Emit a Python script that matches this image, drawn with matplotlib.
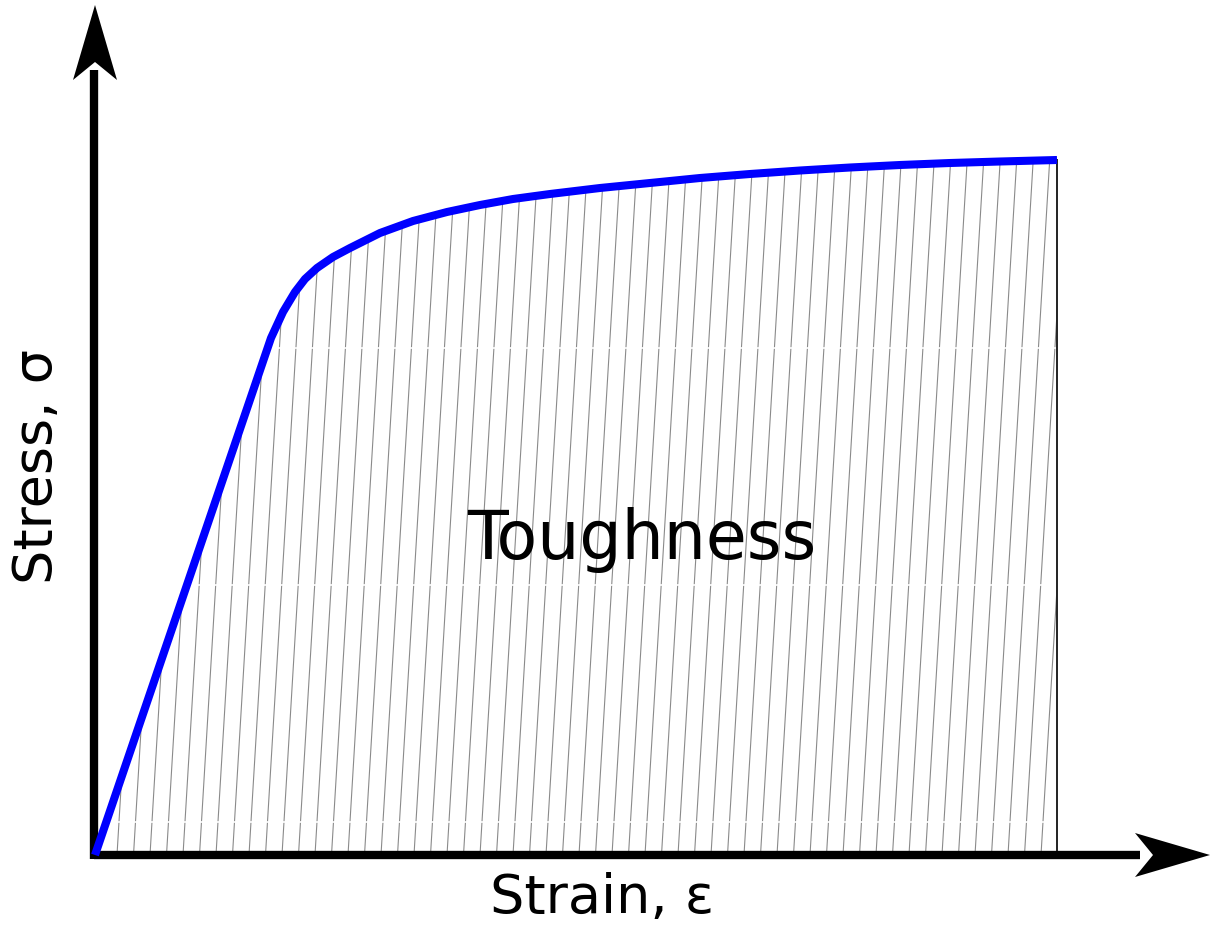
"""
Stress-strain sketch with the toughness area hatched under the curve.
"""

import numpy as np
import matplotlib.pyplot as plt
from matplotlib.patches import Polygon

# curve (arbitrary units, origin at the axes corner)
strain = [0, 176, 188, 200, 210, 222, 238, 255, 285, 318, 352, 385,
          418, 455, 505, 555, 605, 655, 705, 755, 805, 855, 905, 962]
stress = [0, 517, 543, 563, 576, 587, 598, 607, 622, 634, 643, 650,
          656, 661, 667, 672, 677, 681, 684.5, 687.5, 690, 692, 693.5, 695]

xlabel = 'Strain, ε'
ylabel = 'Stress, σ'
area_label = 'Toughness'

size = 39
hatch_step = 16.5
hatch_tilt = 0.06

fig = plt.figure(figsize=(12.11, 9.32), dpi=100)
ax = fig.add_axes([0, 0, 1, 1])
ax.set_xlim(-95, 1116)
ax.set_ylim(-77, 855)
ax.axis('off')

# area under the curve, used as clip path for the hatch lines
xs = np.array(strain, dtype=float)
ys = np.array(stress, dtype=float)
poly = np.column_stack([np.r_[xs, xs[-1]], np.r_[ys, 0]])
area = Polygon(poly, closed=True, facecolor='none', edgecolor='none')
ax.add_patch(area)

top = ys.max() + 30
for b in np.arange(22, xs[-1] + 5, hatch_step):
    ln, = ax.plot([b, b + hatch_tilt * top], [0, top], color='#8a8a8a', lw=0.8)
    ln.set_clip_path(area)
for yy in [33, 270, 507, 744]:
    ln, = ax.plot([0, xs[-1]], [yy, yy], color='white', lw=1.2)
    ln.set_clip_path(area)

# right edge of the area
ax.plot([xs[-1], xs[-1]], [0, ys[-1]], color='#222222', lw=1.4)

# axes with arrow heads
ax.plot([-1, 1045], [0, 0], color='black', lw=6, solid_capstyle='butt')
ax.plot([-1, -1], [-4, 785], color='black', lw=6, solid_capstyle='butt')
ax.add_patch(Polygon([[1115, 0], [1040, 22], [1058, 0], [1040, -22]],
                     closed=True, color='black', lw=0))
ax.add_patch(Polygon([[0, 850], [-22, 775], [0, 793], [22, 775]],
                     closed=True, color='black', lw=0))

# the stress-strain curve
ax.plot(xs, ys, color='#0000ff', lw=5.8, solid_capstyle='butt',
        solid_joinstyle='round')

ax.text(547, 315, area_label, fontsize=48, ha='center', va='center')
ax.text(507, -43, xlabel, fontsize=size, ha='center', va='center')
ax.text(-58, 388, ylabel, fontsize=size, ha='center', va='center',
        rotation=90)

plt.savefig('out.png', dpi=100)
plt.close(fig)
